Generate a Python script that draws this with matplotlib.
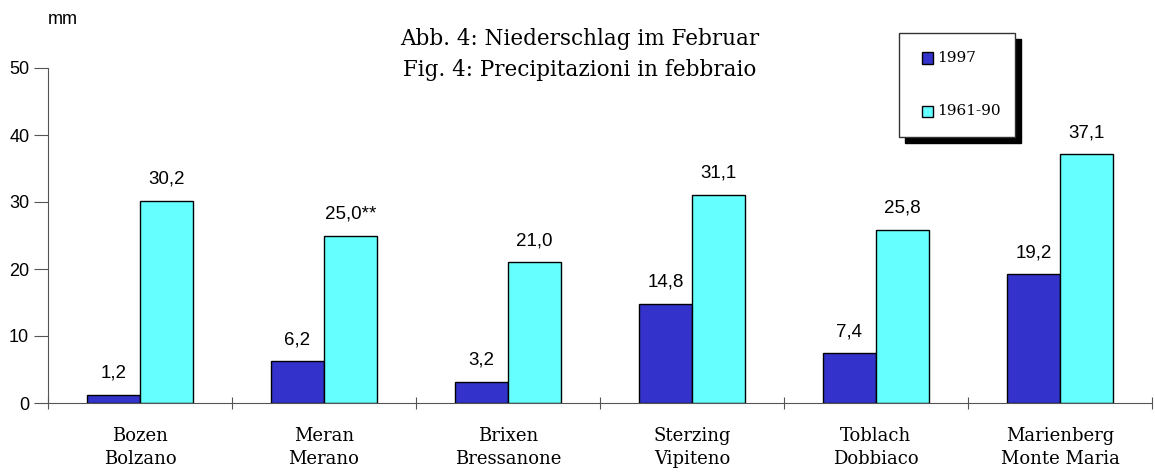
import matplotlib.pyplot as plt
import numpy as np
from matplotlib.patches import Rectangle

stations_de = ['Bozen', 'Meran', 'Brixen', 'Sterzing', 'Toblach', 'Marienberg']
stations_it = ['Bolzano', 'Merano', 'Bressanone', 'Vipiteno', 'Dobbiaco', 'Monte Maria']
prec_1997 = [1.2, 6.2, 3.2, 14.8, 7.4, 19.2]
prec_6190 = [30.2, 25.0, 21.0, 31.1, 25.8, 37.1]
labels_1997 = ['1,2', '6,2', '3,2', '14,8', '7,4', '19,2']
labels_6190 = ['30,2', '25,0**', '21,0', '31,1', '25,8', '37,1']

serif = ['DejaVu Serif']
sans = ['Liberation Sans', 'DejaVu Sans']
dark = '#3333CC'
light = '#66FFFF'

fig = plt.figure(figsize=(11.55, 4.72), dpi=100)
ax = fig.add_axes([48 / 1155, 1 - 403 / 472, 1104 / 1155, 335 / 472])

x = np.arange(len(stations_de)) + 0.5
w = 0.29
ax.bar(x - w / 2, prec_1997, w, color=dark, edgecolor='black', linewidth=1, label='1997')
ax.bar(x + w / 2, prec_6190, w, color=light, edgecolor='black', linewidth=1, label='1961-90')

for xi, v, t in zip(x - w / 2, prec_1997, labels_1997):
    ax.annotate(t, (xi, v), xytext=(0, 9.5), textcoords='offset points', ha='center',
                va='bottom', fontsize=13.5, family=sans)
for xi, v, t in zip(x + w / 2, prec_6190, labels_6190):
    ax.annotate(t, (xi, v), xytext=(0, 9.5), textcoords='offset points', ha='center',
                va='bottom', fontsize=13.5, family=sans)

ax.set_xlim(0, 6)
ax.set_ylim(0, 50)
ax.set_yticks([0, 10, 20, 30, 40, 50])
ax.set_xticks(np.arange(0, 7))
ax.set_xticklabels([])
for s in ['top', 'right']:
    ax.spines[s].set_visible(False)
ax.spines['left'].set_color('#555555')
ax.spines['bottom'].set_color('#555555')
ax.tick_params(axis='y', direction='out', length=10, color='#555555', labelsize=13)
ax.tick_params(axis='x', direction='inout', length=8, color='#555555')
for lab in ax.get_yticklabels():
    lab.set_family(sans)

# station names, German over Italian
for xi, de, it in zip(x, stations_de, stations_it):
    ax.annotate(de + '\n' + it, (xi, 0), xytext=(0, -17), textcoords='offset points',
                ha='center', va='top', fontsize=13, family=serif, linespacing=1.4)

fig.text(63 / 1155, 1 - 20 / 472, 'mm', ha='center', va='center', fontsize=13, family=sans)
fig.text(580 / 1155, 1 - 39 / 472, 'Abb. 4: Niederschlag im Februar', ha='center', va='center',
         fontsize=15.5, family=serif)
fig.text(580 / 1155, 1 - 70 / 472, 'Fig. 4: Precipitazioni in febbraio', ha='center', va='center',
         fontsize=15.5, family=serif)

# legend box with shadow
lx0, ly0, lw, lh = 899, 33, 116, 104
fig.patches.append(Rectangle(((lx0 + 6) / 1155, 1 - (ly0 + lh + 6) / 472), lw / 1155, lh / 472,
                             transform=fig.transFigure, facecolor='black', edgecolor='black'))
fig.patches.append(Rectangle((lx0 / 1155, 1 - (ly0 + lh) / 472), lw / 1155, lh / 472,
                             transform=fig.transFigure, facecolor='white', edgecolor='#333333', lw=1))
for yy, col, txt in [(58, dark, '1997'), (111, light, '1961-90')]:
    fig.patches.append(Rectangle((922 / 1155, 1 - (yy + 5.5) / 472), 11 / 1155, 11 / 472,
                                 transform=fig.transFigure, facecolor=col, edgecolor='black', lw=1))
    fig.text(937 / 1155, 1 - yy / 472, txt, ha='left', va='center', fontsize=11, family=serif)

plt.savefig('out.png', dpi=100)
